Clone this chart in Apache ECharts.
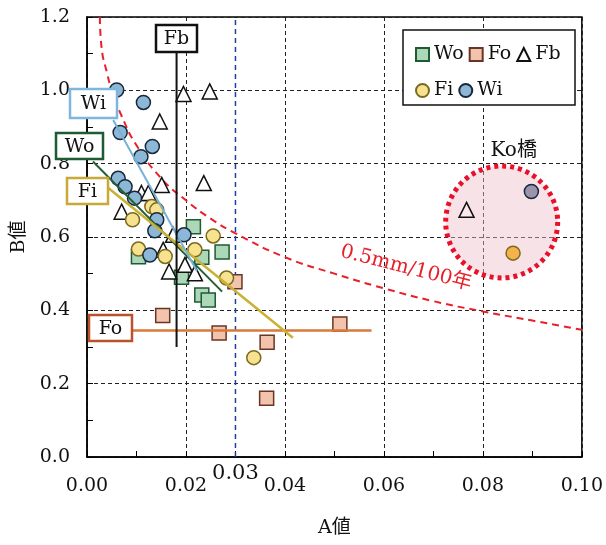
<!DOCTYPE html>
<html><head><meta charset="utf-8">
<script src="https://cdn.jsdelivr.net/npm/echarts@6/dist/echarts.min.js"></script>
<style>html,body{margin:0;padding:0;background:#fff}#c{width:606px;height:545px}</style>
</head><body><div id="c"></div>
<script>
// ---- data ----
const xTicks = [0.00, 0.02, 0.04, 0.06, 0.08, 0.10];
const yTicks = [0.0, 0.2, 0.4, 0.6, 0.8, 1.0, 1.2];
const woPoints = [[0.0215,0.628],[0.0273,0.559],[0.0232,0.545],[0.0104,0.546],[0.0191,0.490],[0.0232,0.442],[0.0245,0.428]];
const foPoints = [[0.0153,0.386],[0.0299,0.478],[0.0267,0.338],[0.0364,0.313],[0.0363,0.160],[0.0511,0.363]];
const fbPoints = [[0.0195,0.99],[0.0248,0.997],[0.0147,0.915],[0.0236,0.747],[0.0151,0.742],[0.0110,0.720],[0.0124,0.720],[0.0070,0.669],[0.0174,0.606],[0.0154,0.565],[0.0198,0.524],[0.0218,0.501],[0.0166,0.506]];
const fiPoints = [[0.0131,0.683],[0.0141,0.674],[0.0092,0.647],[0.0255,0.603],[0.0218,0.565],[0.0104,0.567],[0.0158,0.547],[0.0282,0.488],[0.0337,0.271]];
const wiPoints = [[0.0060,1.001],[0.0114,0.967],[0.0067,0.885],[0.0132,0.847],[0.0109,0.819],[0.0063,0.760],[0.0077,0.737],[0.0096,0.706],[0.0141,0.647],[0.0137,0.617],[0.0196,0.606],[0.0127,0.551]];
const koFb = [[0.0767,0.674]];
const koWi = [[0.0898,0.724]];
const koFi = [[0.0861,0.556]];
const wiLine = [[0.0053,0.919],[0.0222,0.507]];
const woLine = [[0.0012,0.806],[0.0273,0.451]];
const fiLine = [[0.0040,0.737],[0.0416,0.325]];
const foLine = [[0.0060,0.345],[0.0575,0.345]];
const fbLine = [[0.0181,1.105],[0.0181,0.300]];
const refA = 0.03;
const curve05 = [[0.0026,1.20],[0.003,1.11],[0.004,1.05],[0.005,1.00],[0.007,0.93],[0.010,0.85],[0.015,0.76],[0.020,0.70],[0.025,0.65],[0.030,0.61],[0.040,0.545],[0.050,0.50],[0.060,0.46],[0.070,0.425],[0.080,0.397],[0.090,0.372],[0.100,0.347]];
const koCenter = [0.0838, 0.641];

const FONT = "'DejaVu Serif','Noto Sans CJK JP',serif";
const chart = echarts.init(document.getElementById('c'));

const sty = {
  Wo:{symbol:'rect', color:'#acd8b7', border:'#1e5a34'},
  Fo:{symbol:'rect', color:'#f3c4ad', border:'#6b3422'},
  Fb:{symbol:'triangle', color:'#ffffff', border:'#111111'},
  Fi:{symbol:'circle', color:'#f7e290', border:'#7a6a1e'},
  Wi:{symbol:'circle', color:'#8db7d7', border:'#17283a'}
};
function scatter(name, pts, extra, extraColor){
  const s = sty[name];
  const data = pts.map(p=>p.slice());
  extra.forEach(p=>data.push({value:p, itemStyle:{color:extraColor}}));
  return {name, type:'scatter', symbol:s.symbol, symbolSize: name==='Fb'?15:14, z:3,
    itemStyle:{color:s.color, borderColor:s.border, borderWidth:1.5, opacity:1}, data};
}
function seg(name, pts, color, width){
  return {name, type:'line', data:pts, symbol:'none', z:5, silent:true,
    lineStyle:{color, width}, animation:false};
}

const option = {
  animation:false,
  textStyle:{fontFamily:FONT},
  grid:{left:87, top:17, right:24, bottom:88, show:true, borderColor:'#000', borderWidth:1.5, backgroundColor:'transparent'},
  xAxis:{type:'value', min:xTicks[0], max:xTicks[xTicks.length-1], interval:0.02,
    name:'A値', nameLocation:'middle', nameGap:62, nameTextStyle:{fontSize:19, color:'#111', fontFamily:FONT},
    axisLine:{lineStyle:{color:'#000', width:1.5}},
    axisTick:{show:true, inside:true, length:6, lineStyle:{color:'#000'}},
    minorTick:{show:true, splitNumber:2, length:6, lineStyle:{color:'#000'}},
    axisLabel:{fontSize:19, color:'#111', margin:20, fontFamily:FONT, formatter:v=>v.toFixed(2)},
    splitLine:{show:true, lineStyle:{color:'#222', type:[4,3], width:1}}},
  yAxis:{type:'value', min:yTicks[0], max:yTicks[yTicks.length-1], interval:0.2,
    name:'B値', nameLocation:'middle', nameGap:56, nameRotate:90, nameTextStyle:{fontSize:19, color:'#111', fontFamily:FONT},
    axisLine:{show:true, lineStyle:{color:'#000', width:1.5}},
    axisTick:{show:true, inside:true, length:6, lineStyle:{color:'#000'}},
    minorTick:{show:true, splitNumber:2, length:6, lineStyle:{color:'#000'}},
    axisLabel:{fontSize:19, color:'#111', margin:17, fontFamily:FONT, formatter:v=>v.toFixed(1)},
    splitLine:{show:true, lineStyle:{color:'#222', type:[4,3], width:1}}},
  legend:[
    {data:['Wo','Fo','Fb'], left:410, top:40, orient:'horizontal', itemWidth:13, itemHeight:13, itemGap:5, z:6,
     textStyle:{fontSize:19, color:'#111', width:38, fontFamily:FONT}},
    {data:['Fi','Wi'], left:410, top:76, orient:'horizontal', itemWidth:13, itemHeight:13, itemGap:5, z:6,
     textStyle:{fontSize:19, color:'#111', width:38, fontFamily:FONT}}
  ],
  series:[
    {name:'curve', type:'line', data:curve05, smooth:true, symbol:'none', z:2, silent:true,
     lineStyle:{color:'#e8202a', width:2, type:[7,5]}},
    {name:'ref003', type:'line', data:[[refA, yTicks[0]],[refA, yTicks[yTicks.length-1]]], symbol:'none', z:2, silent:true,
     lineStyle:{color:'#1f3f9f', width:1.5, type:[5,4]}},
    scatter('Wo', woPoints, [], null),
    scatter('Fo', foPoints, [], null),
    scatter('Fb', fbPoints, koFb, 'rgba(255,235,240,0.6)'),
    scatter('Fi', fiPoints, koFi, '#f3b24c'),
    scatter('Wi', wiPoints, koWi, '#9c93ad'),
    seg('WoLine', woLine, '#245f36', 2),
    seg('FoLine', foLine, '#d9793a', 2.5),
    seg('FiLine', fiLine, '#c9b134', 2.5),
    seg('WiLine', wiLine, '#76b1d6', 2),
    seg('FbLine', fbLine, '#111111', 2)
  ]
};
chart.setOption(option);

const px = (a,b)=>chart.convertToPixel({gridIndex:0},[a,b]);
const kc = px(koCenter[0], koCenter[1]);
const ref0 = px(refA, 0);
function box(x,y,w,h,text,color){
  return {type:'group', x, y, z:20, children:[
    {type:'rect', shape:{x:0,y:0,width:w,height:h}, style:{fill:'#fff', stroke:color, lineWidth:2.5}, z:20},
    {type:'text', x:w/2, y:h/2+1, style:{text, fill:'#111', font:'19px '+FONT, textAlign:'center', textVerticalAlign:'middle'}, z:21}
  ]};
}
chart.setOption({graphic:[
  {type:'circle', shape:{cx:kc[0], cy:kc[1], r:56}, z:1,
   style:{fill:'rgba(238,190,205,0.45)', stroke:'#e8102a', lineWidth:5, lineDash:[4,4]}},
  {type:'text', x:kc[0]+12, y:kc[1]-71, z:6, style:{text:'Ko橋', fill:'#111', font:'20px '+FONT, textAlign:'center', textVerticalAlign:'middle'}},
  {type:'text', x:406, y:268, rotation:-0.25, z:6, style:{text:'0.5mm/100年', fill:'#e8202a', font:'20px '+FONT, textAlign:'center', textVerticalAlign:'middle'}},
  {type:'text', x:ref0[0], y:ref0[1]+17, z:6, style:{text:'0.03', fill:'#111', font:'21px '+FONT, textAlign:'center', textVerticalAlign:'middle'}},
  {type:'rect', shape:{x:403,y:30,width:172,height:75}, z:1, style:{fill:'#fff', stroke:'#111', lineWidth:1.5}},
  box(70,89,47,29,'Wi','#7fb6dc'),
  box(56,133,47,26,'Wo','#1e5a34'),
  box(67,178,41,26,'Fi','#c9a93a'),
  box(89,315,43,26,'Fo','#b8532c'),
  box(156,25,41,27,'Fb','#111111')
]});
</script></body></html>
